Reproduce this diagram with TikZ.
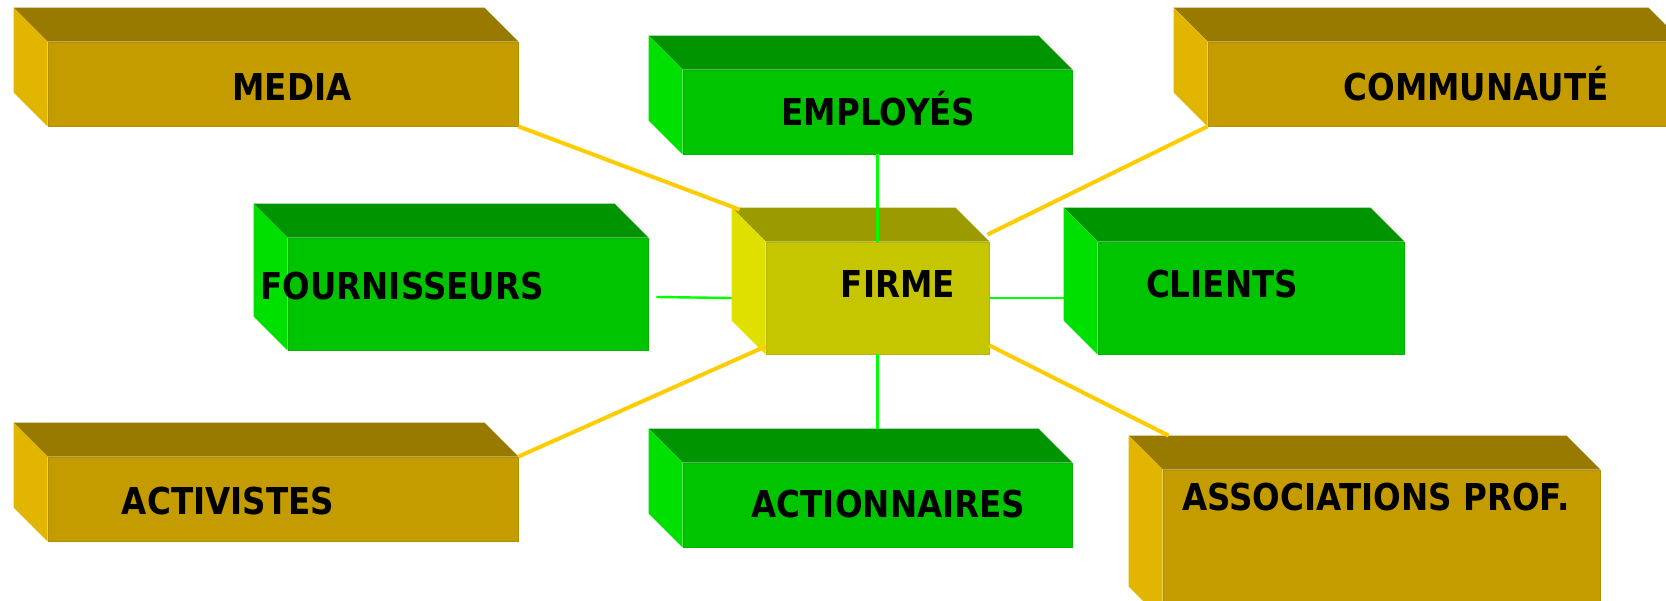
\documentclass[tikz,border=0pt]{standalone}
\usepackage{fontspec}
\newfontfamily\boxfont{DejaVu Sans}[FakeStretch=0.88]
\definecolor{goldfront}{HTML}{C49C00}
\definecolor{goldtop}{HTML}{997A00}
\definecolor{goldside}{HTML}{E1B500}
\definecolor{greenfront}{HTML}{00C400}
\definecolor{greentop}{HTML}{009400}
\definecolor{greenside}{HTML}{00E000}
\definecolor{firmfront}{HTML}{C6C600}
\definecolor{firmtop}{HTML}{9B9B00}
\definecolor{firmside}{HTML}{E0E000}
\definecolor{ylink}{HTML}{FFCC00}
\definecolor{glink}{HTML}{00FF00}
\begin{document}
\begin{tikzpicture}[x=0.5pt, y=-0.5pt,
  slab/.style={rectangle, inner sep=0pt, fill=#1front, draw=#1front!92!black, line width=0.4pt},
  txt/.style={anchor=base, font=\boxfont\bfseries\fontsize{18.5}{20}\selectfont},
  yline/.style={ylink, line width=2pt},
  gline/.style={glink, line width=1.2pt}]
\useasboundingbox (0,0) rectangle (1666,600);
% front faces
\node[slab=gold, minimum width=235pt, minimum height=42pt] (media) at (283,84){};
\node[slab=green, minimum width=194.5pt, minimum height=42pt] (employes) at (877.5,112){};
\node[slab=gold, minimum width=237pt, minimum height=42pt] (communaute) at (1445,84){};
\node[slab=green, minimum width=180pt, minimum height=56pt] (fournisseurs) at (468,294){};
\node[slab=firm, minimum width=111.5pt, minimum height=56pt] (firme) at (877.5,298){};
\node[slab=green, minimum width=153pt, minimum height=56pt] (clients) at (1251,298){};
\node[slab=gold, minimum width=235pt, minimum height=42pt] (activistes) at (283,499){};
\node[slab=green, minimum width=194.5pt, minimum height=42pt] (actionnaires) at (877.5,505){};
\node[slab=gold, minimum width=218.5pt, minimum height=75pt] (associations) at (1381.5,545){};
% top and side faces
\foreach \n/\c in {media/gold, employes/green, communaute/gold, fournisseurs/green, firme/firm,
                   clients/green, activistes/gold, actionnaires/green, associations/gold}{
  \fill[\c top] (\n.north west) -- ++(-34,-34) -- ([shift={(-34,-34)}]\n.north east) -- (\n.north east) -- cycle;
  \fill[\c side] (\n.north west) -- ++(-34,-34) -- ([shift={(-34,-34)}]\n.south west) -- (\n.south west) -- cycle;
}
% links to the firm
\draw[yline] (media.south east) -- ([shift={(-26,-32)}]firme.north west);
\draw[gline] (employes.south) -- (firme.north);
\draw[yline] (communaute.south west) -- ([shift={(-2,-7)}]firme.north east);
\draw[gline] ([shift={(8,3)}]fournisseurs.east) -- ([shift={(-34,0)}]firme.west);
\draw[gline] (firme.east) -- ([shift={(-34,0)}]clients.west);
\draw[yline] (activistes.north east) -- ([shift={(0,-8)}]firme.south west);
\draw[gline] (firme.south) -- ([shift={(0,-34)}]actionnaires.north);
\draw[yline] ([shift={(0,-9)}]firme.south east) -- ([shift={(6,-34)}]associations.north west);
% labels
\node[txt] (media-txt) at (292,100){MEDIA};
\node[txt] (employes-txt) at (878.5,125){EMPLOYÉS};
\node[txt] (communaute-txt) at (1476,100){COMMUNAUTÉ};
\node[txt] (fournisseurs-txt) at (402,299){FOURNISSEURS};
\node[txt] (firme-txt) at (898,297){FIRME};
\node[txt] (clients-txt) at (1222,297){CLIENTS};
\node[txt] (activistes-txt) at (228,514){ACTIVISTES};
\node[txt] (actionnaires-txt) at (888.5,517){ACTIONNAIRES};
\node[txt] (associations-txt) at (1376,510){ASSOCIATIONS PROF.};
\end{tikzpicture}
\end{document}
